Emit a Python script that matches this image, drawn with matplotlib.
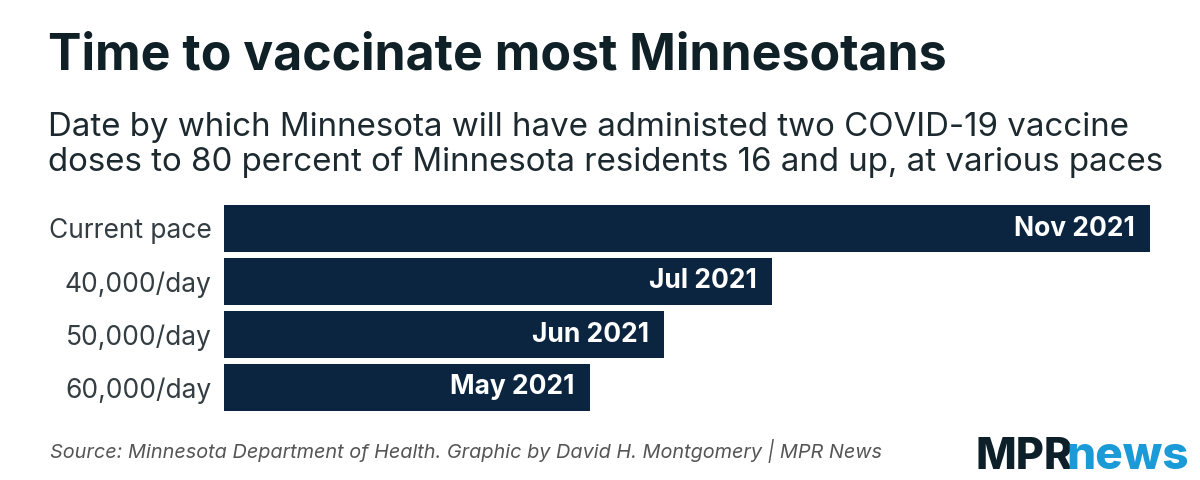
import matplotlib.pyplot as plt

# days from start until 80% of residents 16+ are fully vaccinated
paces = ['Current pace', '40,000/day', '50,000/day', '60,000/day']
days_needed = [301, 178, 143, 119]
finish_labels = ['Nov 2021', 'Jul 2021', 'Jun 2021', 'May 2021']

plt.rcParams['font.family'] = ['Inter', 'DejaVu Sans']

bar_color = '#0b2540'
dark = '#0f2027'

fig = plt.figure(figsize=(12, 4.8), dpi=100)
fig.patch.set_facecolor('white')

# axes spans bar area: left edge x=224px, longest bar ends x=1150px
ax = fig.add_axes([224 / 1200, 1 - 414 / 480, (1150 - 224) / 1200, (414 - 202) / 480])
ypos = list(range(len(paces)))
ax.barh(ypos, days_needed, height=0.88, color=bar_color)
ax.set_xlim(0, max(days_needed))
ax.set_ylim(len(paces) - 0.5, -0.5)
ax.set_yticks(ypos)
ax.set_yticklabels(paces, fontsize=19, color='#333d42')
ax.tick_params(axis='y', length=0, pad=9)
ax.set_xticks([])
for s in ax.spines.values():
    s.set_visible(False)

for y, d, lab in zip(ypos, days_needed, finish_labels):
    ax.annotate(lab, (d, y), xytext=(-11, 0), textcoords='offset points',
                ha='right', va='center', color='white', fontsize=19, fontweight='bold')

fig.text(48 / 1200, 1 - 70 / 480, 'Time to vaccinate most Minnesotans',
         fontsize=36, fontweight='bold', color=dark, va='baseline')
fig.text(48 / 1200, 1 - 136 / 480, 'Date by which Minnesota will have administed two COVID-19 vaccine',
         fontsize=23.8, color='#1c2a30', va='baseline')
fig.text(48 / 1200, 1 - 171 / 480, 'doses to 80 percent of Minnesota residents 16 and up, at various paces',
         fontsize=23.8, color='#1c2a30', va='baseline')
fig.text(50 / 1200, 1 - 458 / 480,
         'Source: Minnesota Department of Health. Graphic by David H. Montgomery | MPR News',
         fontsize=14.3, style='italic', color='#555555', va='baseline')

# logo
fig.text(975 / 1200, 1 - 469 / 480, 'MPR', fontsize=31, fontweight='heavy',
         color='#0d2029', va='baseline')
fig.text(1066 / 1200, 1 - 469 / 480, 'news', fontsize=33, fontweight='heavy',
         color='#1a9ad6', va='baseline')

fig.savefig('out.png', dpi=100, facecolor='white')
